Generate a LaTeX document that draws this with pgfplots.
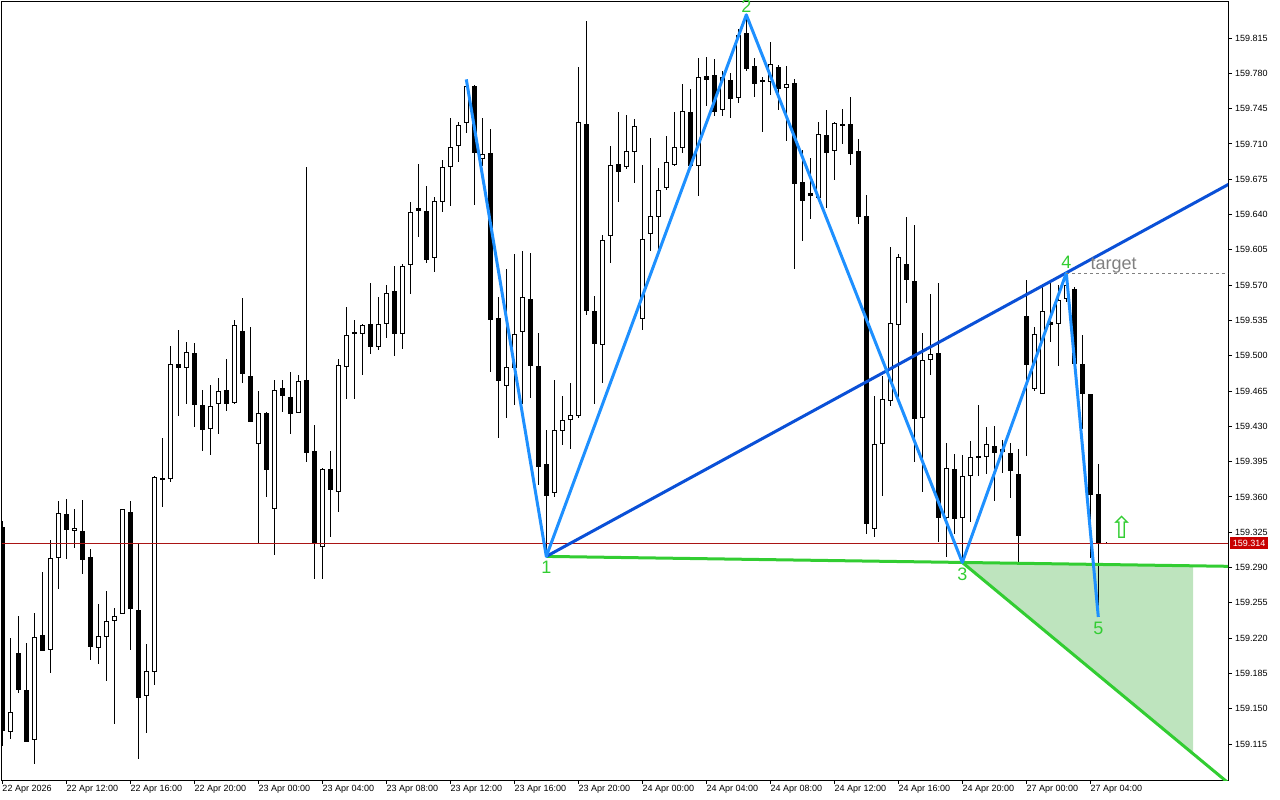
\documentclass[border=0pt]{standalone}
\usepackage{fontspec}
\setmainfont{Liberation Sans}
\newfontfamily\symfont{DejaVu Sans}
\usepackage{pgfplots}
\pgfplotsset{compat=1.18}
\usepackage{pgfplotstable}

\definecolor{zig}{RGB}{30,144,255}
\definecolor{trend}{RGB}{10,80,215}
\definecolor{lgreen}{RGB}{50,205,50}
\definecolor{gfill}{RGB}{190,228,190}
\definecolor{bidline}{RGB}{170,20,20}
\definecolor{pricebox}{RGB}{200,0,0}
\definecolor{tgray}{RGB}{128,128,128}

\pgfplotstableread{
k o h l c
0 159.330 159.337 159.114 159.127
1 159.127 159.221 159.121 159.147
2 159.206 159.243 159.167 159.169
3 159.170 159.216 159.117 159.118
4 159.121 159.246 159.096 159.223
5 159.224 159.286 159.208 159.208
6 159.209 159.318 159.186 159.300
7 159.300 159.356 159.269 159.345
8 159.344 159.359 159.299 159.328
9 159.327 159.349 159.310 159.330
10 159.328 159.358 159.285 159.299
11 159.301 159.309 159.199 159.212
12 159.211 159.254 159.194 159.223
13 159.221 159.268 159.178 159.236
14 159.237 159.250 159.135 159.242
15 159.244 159.349 159.244 159.348
16 159.346 159.356 159.209 159.249
17 159.249 159.315 159.101 159.162
18 159.163 159.215 159.126 159.188
19 159.188 159.381 159.174 159.381
20 159.379 159.419 159.351 159.379
21 159.378 159.510 159.375 159.492
22 159.492 159.526 159.441 159.488
23 159.488 159.515 159.453 159.504
24 159.504 159.514 159.431 159.452
25 159.452 159.467 159.406 159.427
26 159.429 159.471 159.402 159.452
27 159.453 159.478 159.422 159.466
28 159.467 159.497 159.446 159.453
29 159.454 159.537 159.454 159.531
30 159.526 159.559 159.474 159.483
31 159.481 159.528 159.436 159.436
32 159.413 159.466 159.315 159.444
33 159.444 159.446 159.361 159.388
34 159.349 159.477 159.303 159.467
35 159.467 159.477 159.446 159.460
36 159.461 159.484 159.423 159.444
37 159.444 159.482 159.444 159.476
38 159.477 159.688 159.395 159.405
39 159.406 159.433 159.280 159.314
40 159.311 159.390 159.280 159.388
41 159.387 159.406 159.321 159.366
42 159.366 159.498 159.346 159.492
43 159.490 159.550 159.459 159.522
44 159.523 159.535 159.457 159.523
45 159.523 159.533 159.482 159.531
46 159.531 159.572 159.502 159.509
47 159.510 159.560 159.507 159.532
48 159.533 159.572 159.519 159.564
49 159.565 159.590 159.501 159.523
50 159.523 159.592 159.508 159.590
51 159.591 159.653 159.562 159.644
52 159.648 159.692 159.619 159.645
53 159.644 159.668 159.592 159.596
54 159.597 159.658 159.584 159.654
55 159.653 159.695 159.643 159.688
56 159.688 159.737 159.649 159.708
57 159.708 159.733 159.694 159.729
58 159.731 159.774 159.722 159.767
59 159.767 159.770 159.651 159.701
60 159.697 159.737 159.689 159.702
61 159.702 159.725 159.484 159.536
62 159.539 159.559 159.419 159.476
63 159.470 159.587 159.439 159.489
64 159.489 159.601 159.452 159.523
65 159.524 159.604 159.452 159.559
66 159.557 159.603 159.460 159.490
67 159.492 159.523 159.372 159.392
68 159.394 159.427 159.301 159.362
69 159.364 159.476 159.360 159.427
70 159.426 159.461 159.412 159.437
71 159.437 159.474 159.409 159.442
72 159.440 159.786 159.438 159.732
73 159.730 159.833 159.542 159.545
74 159.545 159.560 159.453 159.513
75 159.512 159.620 159.473 159.616
76 159.619 159.709 159.593 159.690
77 159.691 159.742 159.653 159.683
78 159.689 159.740 159.686 159.704
79 159.703 159.736 159.673 159.729
80 159.538 159.689 159.525 159.617
81 159.621 159.717 159.605 159.639
82 159.638 159.687 159.604 159.665
83 159.666 159.718 159.664 159.692
84 159.691 159.743 159.689 159.708
85 159.707 159.771 159.702 159.744
86 159.742 159.765 159.689 159.689
87 159.689 159.796 159.659 159.777
88 159.777 159.797 159.748 159.773
89 159.779 159.794 159.738 159.742
90 159.744 159.783 159.738 159.777
91 159.775 159.781 159.737 159.756
92 159.757 159.824 159.751 159.819
93 159.821 159.838 159.783 159.786
94 159.788 159.796 159.758 159.770
95 159.773 159.777 159.722 159.771
96 159.771 159.812 159.759 159.789
97 159.787 159.788 159.744 159.765
98 159.766 159.788 159.714 159.770
99 159.770 159.775 159.587 159.670
100 159.674 159.704 159.614 159.655
101 159.662 159.697 159.637 159.659
102 159.657 159.733 159.657 159.720
103 159.721 159.744 159.647 159.703
104 159.703 159.733 159.675 159.731
105 159.731 159.746 159.711 159.729
106 159.731 159.757 159.689 159.701
107 159.702 159.716 159.632 159.637
108 159.639 159.659 159.323 159.334
109 159.329 159.461 159.321 159.413
110 159.412 159.479 159.360 159.457
111 159.457 159.609 159.452 159.534
112 159.532 159.601 159.458 159.599
113 159.591 159.638 159.552 159.576
114 159.576 159.631 159.396 159.439
115 159.438 159.524 159.366 159.496
116 159.496 159.563 159.482 159.502
117 159.503 159.573 159.316 159.340
118 159.340 159.414 159.301 159.390
119 159.388 159.404 159.324 159.339
120 159.340 159.402 159.295 159.382
121 159.382 159.415 159.335 159.401
122 159.400 159.453 159.382 159.400
123 159.400 159.430 159.384 159.413
124 159.411 159.432 159.357 159.405
125 159.405 159.417 159.384 159.408
126 159.404 159.414 159.359 159.386
127 159.384 159.409 159.294 159.322
128 159.540 159.576 159.402 159.491
129 159.468 159.529 159.466 159.523
130 159.463 159.572 159.463 159.545
131 159.535 159.572 159.514 159.532
132 159.532 159.572 159.492 159.556
133 159.556 159.582 159.555 159.570
134 159.568 159.570 159.493 159.493
135 159.493 159.522 159.428 159.463
136 159.463 159.463 159.300 159.363
137 159.363 159.393 159.241 159.314
138 159.314 159.315 159.313 159.314
}\candles

\begin{document}
\begin{tikzpicture}
\useasboundingbox (0pt,0pt) rectangle (1280pt,-800pt);
\begin{axis}[
  at={(2pt,-780pt)}, anchor=south west,
  scale only axis, width=1226pt, height=779pt,
  xmin=-0.0375, xmax=153.2125, ymin=159.0793, ymax=159.8517,
  clip mode=individual,
  axis line style={line width=1pt, black},
  tick align=outside, major tick length=4pt,
  tick style={line width=1pt, black},
  xtick pos=left, ytick pos=right, yticklabel pos=right,
  scaled y ticks=false,
  /pgf/number format/assume math mode=true,
  ytick={159.115,159.150,159.185,159.220,159.255,159.290,159.325,159.360,159.395,159.430,159.465,159.500,159.535,159.570,159.605,159.640,159.675,159.710,159.745,159.780,159.815},
  yticklabel style={font=\fontsize{9}{10}\selectfont, anchor=west, inner sep=0pt, xshift=3pt,
    /pgf/number format/fixed, /pgf/number format/fixed zerofill, /pgf/number format/precision=3},
  xtick={0,8,16,24,32,40,48,56,64,72,80,88,96,104,112,120,128,136},
  xticklabels={22 Apr 2026,22 Apr 12:00,22 Apr 16:00,22 Apr 20:00,23 Apr 00:00,23 Apr 04:00,23 Apr 08:00,23 Apr 12:00,23 Apr 16:00,23 Apr 20:00,24 Apr 00:00,24 Apr 04:00,24 Apr 08:00,24 Apr 12:00,24 Apr 16:00,24 Apr 20:00,27 Apr 00:00,27 Apr 04:00},
  xticklabel style={font=\fontsize{9}{10}\selectfont, anchor=north west, inner sep=0pt, xshift=0pt, yshift=-1pt},
]
% target zone fill
\addplot [fill=gfill, draw=none, forget plot] coordinates {(120,159.295) (148.84,159.2917) (148.84,159.1054)};
% wicks
\addplot [draw=none, no marks, forget plot, error bars/.cd, y dir=both, y explicit, error mark=none,
  error bar style={draw=black, solid, line width=1pt}]
  table [x=k, y expr={(\thisrow{h}+\thisrow{l})/2}, y error expr={(\thisrow{h}-\thisrow{l})/2}] {\candles};
% bodies (outline / bearish fill)
\addplot [draw=none, no marks, forget plot, error bars/.cd, y dir=both, y explicit, error mark=none,
  error bar style={draw=black, solid, line width=5pt}]
  table [x=k, y expr={(\thisrow{o}+\thisrow{c})/2}, y error expr={max(abs(\thisrow{o}-\thisrow{c})/2,0.0005)}] {\candles};
% bullish body interiors
\addplot [draw=none, no marks, forget plot, error bars/.cd, y dir=both, y explicit, error mark=none,
  error bar style={draw=white, solid, line width=3pt}]
  table [x=k, y expr={(\thisrow{o}+\thisrow{c})/2}, y error expr={max((\thisrow{c}-\thisrow{o})/2-0.001,0)}] {\candles};
% bid line
\addplot [bidline, line width=1pt, forget plot] coordinates {(-1,159.314) (160,159.314)};
% green pattern lines
\addplot [lgreen, line width=3pt, forget plot] coordinates {(68,159.301) (160,159.2904)};
\addplot [lgreen, line width=3pt, forget plot] coordinates {(120,159.295) (160,159.032)};
% trend line through 1 and 4
\addplot [trend, line width=3pt, forget plot] coordinates {(68,159.301) (160,159.699)};
% zigzag
\addplot [zig, line width=3pt, line join=round, forget plot] coordinates {(58,159.774) (68,159.301) (93,159.838) (120,159.295) (133,159.582) (137,159.241)};
% target level
\addplot [tgray, line width=1pt, dash pattern=on 3pt off 3pt, forget plot] coordinates {(133,159.582) (160,159.582)};

\node[text=lgreen, font=\fontsize{18}{20}\selectfont, anchor=north, inner sep=0pt] at (axis cs:68,159.301) [yshift=-5pt] {1};
\node[text=lgreen, font=\fontsize{18}{20}\selectfont, anchor=south, inner sep=0pt] at (axis cs:93,159.838) [yshift=2pt] {2};
\node[text=lgreen, font=\fontsize{18}{20}\selectfont, anchor=north, inner sep=0pt] at (axis cs:120,159.295) [yshift=-5pt] {3};
\node[text=lgreen, font=\fontsize{18}{20}\selectfont, anchor=south, inner sep=0pt] at (axis cs:133,159.582) [yshift=4pt] {4};
\node[text=lgreen, font=\fontsize{18}{20}\selectfont, anchor=north, inner sep=0pt] at (axis cs:137,159.241) [yshift=-5pt] {5};
\node[text=tgray, font=\fontsize{18}{20}\selectfont, anchor=base west, inner sep=0pt] at (axis cs:136,159.585) {target};
\node[text=lgreen, font=\symfont\fontsize{30}{32}\selectfont, inner sep=0pt] at (axis cs:140,159.330) {⇧};
\node[fill=pricebox, text=white, font=\fontsize{9}{10}\selectfont, inner sep=0pt, minimum width=38pt, minimum height=12pt, anchor=west] at (axis cs:153.2125,159.314) [xshift=2pt] {159.314};
\end{axis}
\end{tikzpicture}
\end{document}
